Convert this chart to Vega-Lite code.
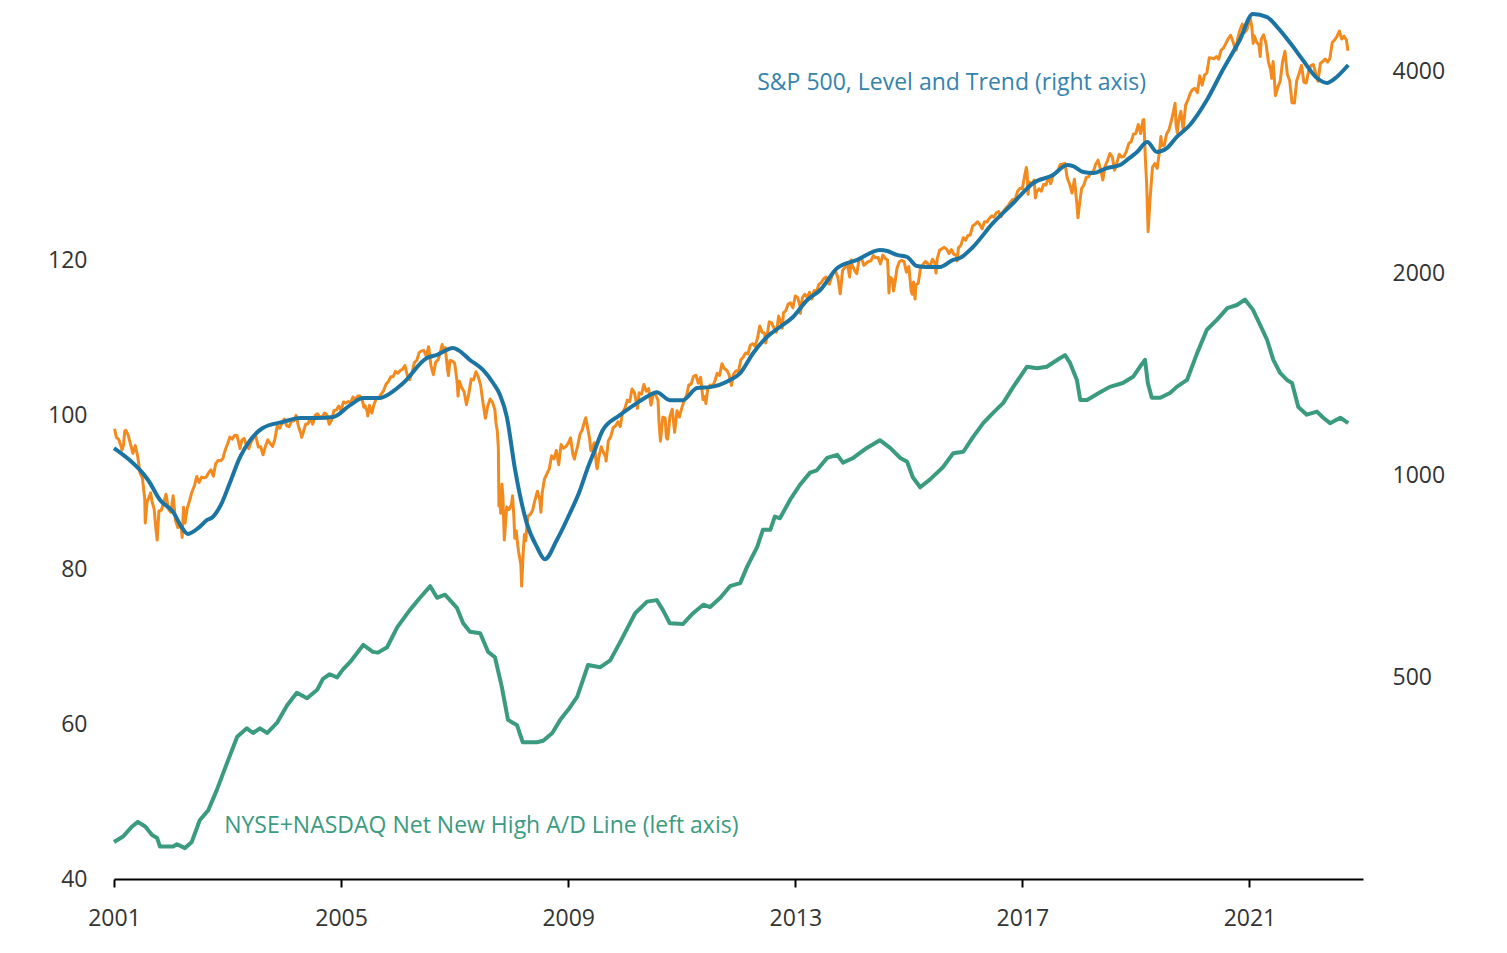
{
"$schema": "https://vega.github.io/schema/vega-lite/v6.json",
"width": 1249, "height": 873,
"autosize": {"type": "none"},
"padding": {"left": 114, "top": 6, "right": 144, "bottom": 74},
"background": "white",
"config": {"view": {"stroke": null}, "axis": {"labelFont": "Open Sans", "labelFontSize": 23, "labelColor": "#333333", "grid": false, "title": null}},
"datasets": {
"ad": [
{"t":2001.00,"v":44.8},{"t":2001.16,"v":45.5},{"t":2001.32,"v":46.8},{"t":2001.42,"v":47.4},{"t":2001.55,"v":46.8},{"t":2001.67,"v":45.7},{"t":2001.76,"v":45.3},{"t":2001.81,"v":44.2},{"t":2002.04,"v":44.2},{"t":2002.11,"v":44.5},{"t":2002.25,"v":44.0},{"t":2002.37,"v":44.8},{"t":2002.51,"v":47.6},{"t":2002.66,"v":48.9},{"t":2002.81,"v":51.5},{"t":2002.99,"v":55.0},{"t":2003.17,"v":58.4},{"t":2003.34,"v":59.5},{"t":2003.45,"v":58.9},{"t":2003.57,"v":59.5},{"t":2003.70,"v":58.9},{"t":2003.87,"v":60.2},{"t":2004.05,"v":62.5},{"t":2004.22,"v":64.1},{"t":2004.40,"v":63.4},{"t":2004.58,"v":64.5},{"t":2004.68,"v":65.9},{"t":2004.80,"v":66.5},{"t":2004.93,"v":66.1},{"t":2005.03,"v":67.1},{"t":2005.16,"v":68.1},{"t":2005.39,"v":70.3},{"t":2005.56,"v":69.4},{"t":2005.65,"v":69.3},{"t":2005.81,"v":70.0},{"t":2005.99,"v":72.6},{"t":2006.21,"v":74.8},{"t":2006.39,"v":76.4},{"t":2006.57,"v":77.9},{"t":2006.69,"v":76.4},{"t":2006.83,"v":76.8},{"t":2007.04,"v":75.1},{"t":2007.15,"v":73.1},{"t":2007.27,"v":72.0},{"t":2007.45,"v":71.8},{"t":2007.59,"v":69.4},{"t":2007.71,"v":68.7},{"t":2007.83,"v":64.9},{"t":2007.94,"v":60.6},{"t":2008.10,"v":59.9},{"t":2008.20,"v":57.7},{"t":2008.45,"v":57.7},{"t":2008.56,"v":57.9},{"t":2008.72,"v":58.9},{"t":2008.86,"v":60.6},{"t":2009.00,"v":61.9},{"t":2009.16,"v":63.6},{"t":2009.35,"v":67.7},{"t":2009.56,"v":67.4},{"t":2009.74,"v":68.3},{"t":2009.91,"v":70.6},{"t":2010.18,"v":74.4},{"t":2010.39,"v":75.9},{"t":2010.56,"v":76.1},{"t":2010.67,"v":74.8},{"t":2010.79,"v":73.1},{"t":2011.02,"v":73.0},{"t":2011.20,"v":74.4},{"t":2011.38,"v":75.5},{"t":2011.50,"v":75.2},{"t":2011.68,"v":76.4},{"t":2011.85,"v":77.9},{"t":2012.03,"v":78.3},{"t":2012.15,"v":80.4},{"t":2012.33,"v":83.0},{"t":2012.43,"v":85.2},{"t":2012.56,"v":85.2},{"t":2012.64,"v":86.9},{"t":2012.73,"v":86.7},{"t":2012.91,"v":89.1},{"t":2013.08,"v":91.0},{"t":2013.26,"v":92.6},{"t":2013.38,"v":92.9},{"t":2013.56,"v":94.5},{"t":2013.74,"v":94.9},{"t":2013.84,"v":93.9},{"t":2014.02,"v":94.5},{"t":2014.26,"v":95.8},{"t":2014.49,"v":96.8},{"t":2014.67,"v":95.8},{"t":2014.85,"v":94.5},{"t":2014.97,"v":94.0},{"t":2015.07,"v":92.0},{"t":2015.20,"v":90.7},{"t":2015.37,"v":91.7},{"t":2015.60,"v":93.3},{"t":2015.78,"v":95.1},{"t":2015.96,"v":95.3},{"t":2016.13,"v":97.2},{"t":2016.31,"v":99.0},{"t":2016.48,"v":100.3},{"t":2016.66,"v":101.6},{"t":2016.84,"v":103.7},{"t":2017.08,"v":106.3},{"t":2017.26,"v":106.1},{"t":2017.43,"v":106.3},{"t":2017.66,"v":107.4},{"t":2017.75,"v":107.8},{"t":2017.84,"v":106.8},{"t":2017.96,"v":104.6},{"t":2018.02,"v":102.0},{"t":2018.14,"v":102.0},{"t":2018.37,"v":103.0},{"t":2018.54,"v":103.7},{"t":2018.77,"v":104.2},{"t":2018.95,"v":105.0},{"t":2019.07,"v":106.3},{"t":2019.16,"v":107.2},{"t":2019.21,"v":104.2},{"t":2019.28,"v":102.3},{"t":2019.43,"v":102.3},{"t":2019.60,"v":102.9},{"t":2019.72,"v":103.7},{"t":2019.90,"v":104.6},{"t":2020.08,"v":108.1},{"t":2020.25,"v":111.1},{"t":2020.43,"v":112.4},{"t":2020.61,"v":113.9},{"t":2020.78,"v":114.3},{"t":2020.92,"v":115.0},{"t":2021.06,"v":113.7},{"t":2021.19,"v":111.7},{"t":2021.31,"v":109.8},{"t":2021.42,"v":107.2},{"t":2021.54,"v":105.5},{"t":2021.66,"v":104.6},{"t":2021.75,"v":104.2},{"t":2021.86,"v":101.1},{"t":2022.01,"v":100.1},{"t":2022.19,"v":100.5},{"t":2022.30,"v":99.7},{"t":2022.42,"v":99.0},{"t":2022.60,"v":99.7},{"t":2022.74,"v":99.0}
],
"trend": [
{"t":2001.00,"v":1097},{"t":2001.28,"v":1052},{"t":2001.46,"v":1017},{"t":2001.60,"v":983},{"t":2001.81,"v":918},{"t":2002.04,"v":881},{"t":2002.20,"v":834},{"t":2002.30,"v":817},{"t":2002.51,"v":837},{"t":2002.64,"v":857},{"t":2002.74,"v":866},{"t":2002.90,"v":909},{"t":2003.04,"v":973},{"t":2003.22,"v":1063},{"t":2003.40,"v":1127},{"t":2003.62,"v":1175},{"t":2003.98,"v":1200},{"t":2004.28,"v":1216},{"t":2004.58,"v":1216},{"t":2004.86,"v":1220},{"t":2005.16,"v":1271},{"t":2005.39,"v":1302},{"t":2005.69,"v":1302},{"t":2005.74,"v":1306},{"t":2006.09,"v":1370},{"t":2006.51,"v":1494},{"t":2006.69,"v":1510},{"t":2006.97,"v":1546},{"t":2007.06,"v":1536},{"t":2007.27,"v":1484},{"t":2007.50,"v":1434},{"t":2007.68,"v":1370},{"t":2007.80,"v":1316},{"t":2007.92,"v":1220},{"t":2008.06,"v":1024},{"t":2008.27,"v":848},{"t":2008.45,"v":781},{"t":2008.59,"v":749},{"t":2008.80,"v":800},{"t":2009.03,"v":877},{"t":2009.21,"v":950},{"t":2009.33,"v":1017},{"t":2009.47,"v":1090},{"t":2009.61,"v":1167},{"t":2009.91,"v":1228},{"t":2010.21,"v":1280},{"t":2010.44,"v":1316},{"t":2010.56,"v":1329},{"t":2010.79,"v":1293},{"t":2011.02,"v":1293},{"t":2011.27,"v":1348},{"t":2011.50,"v":1352},{"t":2011.85,"v":1385},{"t":2012.03,"v":1419},{"t":2012.26,"v":1520},{"t":2012.50,"v":1606},{"t":2012.73,"v":1662},{"t":2012.96,"v":1720},{"t":2013.21,"v":1823},{"t":2013.44,"v":1887},{"t":2013.74,"v":2035},{"t":2014.09,"v":2092},{"t":2014.49,"v":2164},{"t":2014.62,"v":2157},{"t":2014.79,"v":2128},{"t":2014.97,"v":2113},{"t":2015.14,"v":2049},{"t":2015.32,"v":2042},{"t":2015.55,"v":2042},{"t":2015.78,"v":2092},{"t":2015.90,"v":2106},{"t":2016.13,"v":2187},{"t":2016.48,"v":2373},{"t":2016.84,"v":2543},{"t":2017.19,"v":2723},{"t":2017.54,"v":2799},{"t":2017.79,"v":2897},{"t":2017.89,"v":2887},{"t":2018.07,"v":2828},{"t":2018.25,"v":2819},{"t":2018.49,"v":2867},{"t":2018.72,"v":2897},{"t":2018.84,"v":2947},{"t":2019.02,"v":3030},{"t":2019.20,"v":3135},{"t":2019.37,"v":3030},{"t":2019.55,"v":3072},{"t":2019.72,"v":3190},{"t":2019.95,"v":3324},{"t":2020.25,"v":3621},{"t":2020.53,"v":4014},{"t":2020.83,"v":4449},{"t":2021.06,"v":4864},{"t":2021.31,"v":4814},{"t":2021.49,"v":4652},{"t":2021.72,"v":4403},{"t":2021.94,"v":4154},{"t":2022.19,"v":3905},{"t":2022.37,"v":3839},{"t":2022.47,"v":3878},{"t":2022.74,"v":4083}
],
"spx": [
{"t":2001.01,"v":1172},{"t":2001.042,"v":1138},{"t":2001.083,"v":1130},{"t":2001.125,"v":1104},{"t":2001.14,"v":1090},{"t":2001.167,"v":1107},{"t":2001.19,"v":1164},{"t":2001.208,"v":1166},{"t":2001.25,"v":1147},{"t":2001.292,"v":1111},{"t":2001.333,"v":1077},{"t":2001.375,"v":1106},{"t":2001.417,"v":1067},{"t":2001.458,"v":1007},{"t":2001.5,"v":990},{"t":2001.542,"v":921},{"t":2001.55,"v":848},{"t":2001.583,"v":912},{"t":2001.625,"v":930},{"t":2001.645,"v":941},{"t":2001.667,"v":916},{"t":2001.708,"v":889},{"t":2001.73,"v":845},{"t":2001.75,"v":815},{"t":2001.76,"v":800},{"t":2001.792,"v":884},{"t":2001.833,"v":886},{"t":2001.875,"v":910},{"t":2001.917,"v":936},{"t":2001.958,"v":890},{"t":2002.0,"v":880},
{"t":2002.042,"v":931},{"t":2002.083,"v":856},{"t":2002.125,"v":835},{"t":2002.167,"v":841},{"t":2002.19,"v":829},{"t":2002.20,"v":807},{"t":2002.225,"v":895},{"t":2002.25,"v":848},{"t":2002.292,"v":893},{"t":2002.333,"v":917},{"t":2002.375,"v":945},{"t":2002.417,"v":964},{"t":2002.458,"v":995},{"t":2002.5,"v":975},{"t":2002.542,"v":993},{"t":2002.583,"v":990},{"t":2002.625,"v":993},{"t":2002.667,"v":1008},{"t":2002.708,"v":1018},{"t":2002.75,"v":996},{"t":2002.792,"v":1040},{"t":2002.833,"v":1051},{"t":2002.875,"v":1050},{"t":2002.917,"v":1058},{"t":2002.958,"v":1089},{"t":2003.0,"v":1112},
{"t":2003.042,"v":1139},{"t":2003.083,"v":1131},{"t":2003.125,"v":1146},{"t":2003.167,"v":1145},{"t":2003.208,"v":1107},{"t":2003.22,"v":1095},{"t":2003.25,"v":1126},{"t":2003.292,"v":1134},{"t":2003.333,"v":1107},{"t":2003.375,"v":1095},{"t":2003.417,"v":1121},{"t":2003.458,"v":1136},{"t":2003.5,"v":1141},{"t":2003.542,"v":1101},{"t":2003.583,"v":1102},{"t":2003.625,"v":1072},{"t":2003.667,"v":1104},{"t":2003.708,"v":1128},{"t":2003.75,"v":1115},{"t":2003.792,"v":1103},{"t":2003.833,"v":1130},{"t":2003.875,"v":1184},{"t":2003.917,"v":1174},{"t":2003.958,"v":1194},{"t":2004.0,"v":1212},
{"t":2004.042,"v":1184},{"t":2004.083,"v":1181},{"t":2004.125,"v":1201},{"t":2004.167,"v":1204},{"t":2004.208,"v":1227},{"t":2004.25,"v":1181},{"t":2004.292,"v":1152},{"t":2004.306,"v":1138},{"t":2004.333,"v":1157},{"t":2004.375,"v":1190},{"t":2004.417,"v":1192},{"t":2004.458,"v":1216},{"t":2004.5,"v":1191},{"t":2004.542,"v":1227},{"t":2004.583,"v":1234},{"t":2004.625,"v":1220},{"t":2004.667,"v":1220},{"t":2004.708,"v":1237},{"t":2004.75,"v":1229},{"t":2004.792,"v":1190},{"t":2004.833,"v":1207},{"t":2004.875,"v":1248},{"t":2004.917,"v":1250},{"t":2004.958,"v":1267},{"t":2005.0,"v":1248},
{"t":2005.042,"v":1285},{"t":2005.083,"v":1280},{"t":2005.125,"v":1287},{"t":2005.167,"v":1281},{"t":2005.208,"v":1307},{"t":2005.25,"v":1295},{"t":2005.292,"v":1311},{"t":2005.333,"v":1311},{"t":2005.375,"v":1292},{"t":2005.40,"v":1262},{"t":2005.417,"v":1270},{"t":2005.458,"v":1245},{"t":2005.47,"v":1224},{"t":2005.5,"v":1270},{"t":2005.542,"v":1237},{"t":2005.583,"v":1277},{"t":2005.625,"v":1302},{"t":2005.667,"v":1304},{"t":2005.708,"v":1321},{"t":2005.75,"v":1336},{"t":2005.792,"v":1366},{"t":2005.833,"v":1378},{"t":2005.875,"v":1401},{"t":2005.917,"v":1401},{"t":2005.958,"v":1427},{"t":2006.0,"v":1418},
{"t":2006.042,"v":1431},{"t":2006.083,"v":1438},{"t":2006.125,"v":1456},{"t":2006.167,"v":1407},{"t":2006.208,"v":1387},{"t":2006.25,"v":1421},{"t":2006.292,"v":1472},{"t":2006.333,"v":1482},{"t":2006.375,"v":1522},{"t":2006.417,"v":1531},{"t":2006.458,"v":1533},{"t":2006.5,"v":1503},{"t":2006.542,"v":1553},{"t":2006.583,"v":1455},{"t":2006.625,"v":1411},{"t":2006.667,"v":1474},{"t":2006.708,"v":1484},{"t":2006.75,"v":1527},{"t":2006.78,"v":1565},{"t":2006.792,"v":1540},{"t":2006.833,"v":1549},{"t":2006.875,"v":1440},{"t":2006.89,"v":1407},{"t":2006.917,"v":1481},{"t":2006.958,"v":1479},{"t":2007.0,"v":1468},
{"t":2007.042,"v":1380},{"t":2007.06,"v":1311},{"t":2007.083,"v":1379},{"t":2007.125,"v":1349},{"t":2007.167,"v":1331},{"t":2007.208,"v":1273},{"t":2007.25,"v":1323},{"t":2007.292,"v":1390},{"t":2007.333,"v":1386},{"t":2007.375,"v":1425},{"t":2007.417,"v":1400},{"t":2007.458,"v":1360},{"t":2007.5,"v":1280},{"t":2007.542,"v":1215},{"t":2007.583,"v":1267},{"t":2007.625,"v":1298},{"t":2007.667,"v":1283},{"t":2007.708,"v":1252},{"t":2007.73,"v":1192},{"t":2007.75,"v":1166},{"t":2007.77,"v":1099},{"t":2007.78,"v":899},{"t":2007.792,"v":940},{"t":2007.81,"v":877},{"t":2007.833,"v":969},{"t":2007.85,"v":930},{"t":2007.875,"v":800},{"t":2007.917,"v":896},{"t":2007.958,"v":888},{"t":2008.0,"v":903},
{"t":2008.02,"v":931},{"t":2008.042,"v":870},{"t":2008.06,"v":805},{"t":2008.083,"v":826},{"t":2008.125,"v":770},{"t":2008.167,"v":735},{"t":2008.18,"v":683},{"t":2008.208,"v":768},{"t":2008.23,"v":815},{"t":2008.25,"v":798},{"t":2008.292,"v":869},{"t":2008.333,"v":873},{"t":2008.375,"v":887},{"t":2008.417,"v":919},{"t":2008.458,"v":946},{"t":2008.5,"v":919},{"t":2008.52,"v":880},{"t":2008.542,"v":940},{"t":2008.583,"v":987},{"t":2008.625,"v":1004},{"t":2008.667,"v":1021},{"t":2008.708,"v":1068},{"t":2008.75,"v":1057},{"t":2008.792,"v":1088},{"t":2008.833,"v":1036},{"t":2008.875,"v":1110},{"t":2008.917,"v":1096},{"t":2008.958,"v":1102},{"t":2009.0,"v":1115},
{"t":2009.042,"v":1136},{"t":2009.083,"v":1074},{"t":2009.11,"v":1056},{"t":2009.125,"v":1071},{"t":2009.167,"v":1105},{"t":2009.208,"v":1150},{"t":2009.25,"v":1169},{"t":2009.292,"v":1205},{"t":2009.31,"v":1217},{"t":2009.333,"v":1187},{"t":2009.375,"v":1136},{"t":2009.40,"v":1087},{"t":2009.417,"v":1089},{"t":2009.458,"v":1117},{"t":2009.5,"v":1031},{"t":2009.51,"v":1022},{"t":2009.542,"v":1065},{"t":2009.583,"v":1102},{"t":2009.625,"v":1079},{"t":2009.66,"v":1064},{"t":2009.667,"v":1049},{"t":2009.708,"v":1125},{"t":2009.75,"v":1141},{"t":2009.792,"v":1176},{"t":2009.833,"v":1183},{"t":2009.875,"v":1200},{"t":2009.917,"v":1181},{"t":2009.958,"v":1240},{"t":2010.0,"v":1258},
{"t":2010.042,"v":1293},{"t":2010.083,"v":1286},{"t":2010.125,"v":1343},{"t":2010.167,"v":1327},{"t":2010.208,"v":1273},{"t":2010.22,"v":1257},{"t":2010.25,"v":1326},{"t":2010.292,"v":1320},{"t":2010.333,"v":1364},{"t":2010.375,"v":1333},{"t":2010.417,"v":1345},{"t":2010.458,"v":1271},{"t":2010.5,"v":1321},{"t":2010.542,"v":1316},{"t":2010.583,"v":1292},{"t":2010.60,"v":1199},{"t":2010.625,"v":1123},{"t":2010.667,"v":1219},{"t":2010.708,"v":1216},{"t":2010.73,"v":1136},{"t":2010.75,"v":1131},{"t":2010.765,"v":1155},{"t":2010.792,"v":1224},{"t":2010.833,"v":1253},{"t":2010.875,"v":1158},{"t":2010.917,"v":1247},{"t":2010.958,"v":1220},{"t":2011.0,"v":1258},
{"t":2011.042,"v":1289},{"t":2011.083,"v":1312},{"t":2011.125,"v":1362},{"t":2011.167,"v":1366},{"t":2011.208,"v":1404},{"t":2011.25,"v":1408},{"t":2011.292,"v":1370},{"t":2011.333,"v":1398},{"t":2011.375,"v":1295},{"t":2011.417,"v":1310},{"t":2011.425,"v":1278},{"t":2011.458,"v":1343},{"t":2011.5,"v":1362},{"t":2011.542,"v":1357},{"t":2011.583,"v":1379},{"t":2011.625,"v":1418},{"t":2011.667,"v":1407},{"t":2011.708,"v":1465},{"t":2011.75,"v":1441},{"t":2011.792,"v":1433},{"t":2011.833,"v":1412},{"t":2011.875,"v":1360},{"t":2011.917,"v":1416},{"t":2011.958,"v":1430},{"t":2012.0,"v":1426},
{"t":2012.042,"v":1485},{"t":2012.083,"v":1498},{"t":2012.125,"v":1520},{"t":2012.167,"v":1515},{"t":2012.208,"v":1561},{"t":2012.25,"v":1569},{"t":2012.292,"v":1555},{"t":2012.333,"v":1598},{"t":2012.375,"v":1667},{"t":2012.417,"v":1631},{"t":2012.458,"v":1627},{"t":2012.48,"v":1573},{"t":2012.5,"v":1606},{"t":2012.542,"v":1692},{"t":2012.583,"v":1686},{"t":2012.625,"v":1655},{"t":2012.667,"v":1633},{"t":2012.708,"v":1725},{"t":2012.75,"v":1682},{"t":2012.77,"v":1655},{"t":2012.792,"v":1744},{"t":2012.833,"v":1757},{"t":2012.875,"v":1798},{"t":2012.917,"v":1806},{"t":2012.958,"v":1775},{"t":2013.0,"v":1848},
{"t":2013.042,"v":1839},{"t":2013.083,"v":1783},{"t":2013.09,"v":1741},{"t":2013.125,"v":1838},{"t":2013.167,"v":1859},{"t":2013.208,"v":1841},{"t":2013.25,"v":1872},{"t":2013.292,"v":1830},{"t":2013.333,"v":1884},{"t":2013.375,"v":1878},{"t":2013.417,"v":1924},{"t":2013.458,"v":1936},{"t":2013.5,"v":1960},{"t":2013.542,"v":1973},{"t":2013.583,"v":1931},{"t":2013.60,"v":1925},{"t":2013.625,"v":1955},{"t":2013.667,"v":2003},{"t":2013.708,"v":2011},{"t":2013.75,"v":1972},{"t":2013.792,"v":1862},{"t":2013.833,"v":2018},{"t":2013.875,"v":2039},{"t":2013.917,"v":2068},{"t":2013.958,"v":1973},{"t":2013.985,"v":2091},{"t":2014.0,"v":2059},
{"t":2014.042,"v":2019},{"t":2014.083,"v":1995},{"t":2014.125,"v":2097},{"t":2014.167,"v":2105},{"t":2014.208,"v":2053},{"t":2014.25,"v":2068},{"t":2014.292,"v":2081},{"t":2014.333,"v":2086},{"t":2014.375,"v":2123},{"t":2014.417,"v":2107},{"t":2014.458,"v":2110},{"t":2014.5,"v":2063},{"t":2014.542,"v":2127},{"t":2014.583,"v":2104},{"t":2014.625,"v":2092},{"t":2014.64,"v":1971},{"t":2014.65,"v":1868},{"t":2014.667,"v":1972},{"t":2014.708,"v":1958},{"t":2014.73,"v":1881},{"t":2014.75,"v":1920},{"t":2014.792,"v":2033},{"t":2014.833,"v":2079},{"t":2014.875,"v":2089},{"t":2014.917,"v":2080},{"t":2014.958,"v":2006},{"t":2015.0,"v":2044},
{"t":2015.042,"v":1880},{"t":2015.06,"v":1859},{"t":2015.083,"v":1940},{"t":2015.11,"v":1829},{"t":2015.125,"v":1918},{"t":2015.167,"v":1932},{"t":2015.208,"v":2041},{"t":2015.25,"v":2060},{"t":2015.292,"v":2081},{"t":2015.333,"v":2065},{"t":2015.375,"v":2047},{"t":2015.417,"v":2097},{"t":2015.458,"v":2071},{"t":2015.48,"v":2000},{"t":2015.5,"v":2099},{"t":2015.542,"v":2162},{"t":2015.583,"v":2174},{"t":2015.625,"v":2184},{"t":2015.667,"v":2171},{"t":2015.708,"v":2139},{"t":2015.75,"v":2168},{"t":2015.792,"v":2133},{"t":2015.833,"v":2126},{"t":2015.85,"v":2085},{"t":2015.875,"v":2182},{"t":2015.917,"v":2199},{"t":2015.958,"v":2258},{"t":2016.0,"v":2239},
{"t":2016.042,"v":2275},{"t":2016.083,"v":2279},{"t":2016.125,"v":2351},{"t":2016.167,"v":2364},{"t":2016.208,"v":2385},{"t":2016.25,"v":2363},{"t":2016.292,"v":2329},{"t":2016.333,"v":2384},{"t":2016.375,"v":2382},{"t":2016.417,"v":2412},{"t":2016.458,"v":2433},{"t":2016.5,"v":2423},{"t":2016.542,"v":2459},{"t":2016.583,"v":2470},{"t":2016.625,"v":2426},{"t":2016.667,"v":2472},{"t":2016.708,"v":2500},{"t":2016.75,"v":2519},{"t":2016.792,"v":2553},{"t":2016.833,"v":2575},{"t":2016.875,"v":2579},{"t":2016.917,"v":2648},{"t":2016.958,"v":2676},{"t":2017.0,"v":2674},
{"t":2017.042,"v":2798},{"t":2017.07,"v":2873},{"t":2017.083,"v":2824},{"t":2017.10,"v":2620},{"t":2017.125,"v":2732},{"t":2017.167,"v":2714},{"t":2017.208,"v":2752},{"t":2017.23,"v":2588},{"t":2017.25,"v":2641},{"t":2017.292,"v":2670},{"t":2017.333,"v":2648},{"t":2017.375,"v":2712},{"t":2017.417,"v":2705},{"t":2017.458,"v":2780},{"t":2017.5,"v":2718},{"t":2017.542,"v":2801},{"t":2017.583,"v":2816},{"t":2017.625,"v":2840},{"t":2017.667,"v":2902},{"t":2017.708,"v":2905},{"t":2017.75,"v":2914},{"t":2017.792,"v":2768},{"t":2017.833,"v":2712},{"t":2017.875,"v":2632},{"t":2017.917,"v":2760},{"t":2017.958,"v":2546},{"t":2017.98,"v":2417},{"t":2018.0,"v":2507},
{"t":2018.042,"v":2670},{"t":2018.083,"v":2704},{"t":2018.125,"v":2776},{"t":2018.167,"v":2784},{"t":2018.208,"v":2822},{"t":2018.25,"v":2834},{"t":2018.292,"v":2906},{"t":2018.333,"v":2946},{"t":2018.375,"v":2860},{"t":2018.417,"v":2752},{"t":2018.458,"v":2887},{"t":2018.5,"v":2942},{"t":2018.542,"v":3014},{"t":2018.583,"v":2980},{"t":2018.625,"v":2847},{"t":2018.667,"v":2926},{"t":2018.708,"v":3007},{"t":2018.75,"v":2977},{"t":2018.792,"v":2986},{"t":2018.833,"v":3038},{"t":2018.875,"v":3120},{"t":2018.917,"v":3141},{"t":2018.958,"v":3221},{"t":2019.0,"v":3231},
{"t":2019.042,"v":3330},{"t":2019.083,"v":3226},{"t":2019.125,"v":3380},{"t":2019.14,"v":3386},{"t":2019.167,"v":2954},{"t":2019.19,"v":2711},{"t":2019.215,"v":2305},{"t":2019.25,"v":2585},{"t":2019.292,"v":2875},{"t":2019.333,"v":2912},{"t":2019.375,"v":2864},{"t":2019.417,"v":3044},{"t":2019.44,"v":3194},{"t":2019.458,"v":3098},{"t":2019.5,"v":3100},{"t":2019.542,"v":3225},{"t":2019.583,"v":3271},{"t":2019.625,"v":3373},{"t":2019.667,"v":3500},{"t":2019.69,"v":3580},{"t":2019.708,"v":3319},{"t":2019.73,"v":3237},{"t":2019.75,"v":3363},{"t":2019.792,"v":3484},{"t":2019.833,"v":3270},{"t":2019.875,"v":3558},{"t":2019.917,"v":3622},{"t":2019.958,"v":3709},{"t":2020.0,"v":3756},
{"t":2020.042,"v":3768},{"t":2020.083,"v":3714},{"t":2020.125,"v":3934},{"t":2020.167,"v":3811},{"t":2020.208,"v":3943},{"t":2020.25,"v":3973},{"t":2020.292,"v":4185},{"t":2020.333,"v":4181},{"t":2020.375,"v":4173},{"t":2020.417,"v":4204},{"t":2020.458,"v":4166},{"t":2020.5,"v":4298},{"t":2020.542,"v":4327},{"t":2020.583,"v":4395},{"t":2020.625,"v":4468},{"t":2020.667,"v":4523},{"t":2020.708,"v":4433},{"t":2020.75,"v":4308},{"t":2020.77,"v":4300},{"t":2020.792,"v":4471},{"t":2020.833,"v":4605},{"t":2020.875,"v":4698},{"t":2020.90,"v":4594},{"t":2020.917,"v":4567},{"t":2020.958,"v":4620},{"t":2021.0,"v":4766},
{"t":2021.01,"v":4797},{"t":2021.042,"v":4663},{"t":2021.065,"v":4398},{"t":2021.083,"v":4516},{"t":2021.125,"v":4418},{"t":2021.167,"v":4374},{"t":2021.19,"v":4204},{"t":2021.208,"v":4463},{"t":2021.25,"v":4530},{"t":2021.292,"v":4392},{"t":2021.333,"v":4132},{"t":2021.375,"v":4008},{"t":2021.39,"v":3901},{"t":2021.417,"v":4132},{"t":2021.458,"v":3675},{"t":2021.5,"v":3785},{"t":2021.542,"v":3863},{"t":2021.583,"v":4130},{"t":2021.625,"v":4280},{"t":2021.667,"v":3955},{"t":2021.708,"v":3873},{"t":2021.75,"v":3586},{"t":2021.792,"v":3583},{"t":2021.833,"v":3872},{"t":2021.875,"v":3965},{"t":2021.917,"v":4080},{"t":2021.958,"v":3852},{"t":2022.0,"v":3839},
{"t":2022.042,"v":3999},{"t":2022.083,"v":4077},{"t":2022.125,"v":4090},{"t":2022.167,"v":3970},{"t":2022.208,"v":3862},{"t":2022.25,"v":4109},{"t":2022.292,"v":4134},{"t":2022.333,"v":4169},{"t":2022.375,"v":4124},{"t":2022.417,"v":4180},{"t":2022.458,"v":4410},{"t":2022.5,"v":4450},{"t":2022.542,"v":4505},{"t":2022.583,"v":4589},{"t":2022.625,"v":4464},{"t":2022.667,"v":4508},{"t":2022.708,"v":4450},{"t":2022.735,"v":4288}
]
},
"layer": [
{"layer": [
{"data": {"name": "ad"},
 "mark": {"type": "line", "color": "#3A9B7E", "strokeWidth": 4, "strokeJoin": "round"},
 "encoding": {
  "x": {"field": "t", "type": "quantitative", "scale": {"domain": [2001, 2023], "nice": false, "zero": false},
        "axis": {"orient": "bottom", "values": [2001, 2005, 2009, 2013, 2017, 2021], "format": "d", "domainColor": "#000000", "domainWidth": 2, "tickColor": "#000000", "tickWidth": 2, "tickSize": 8, "labelPadding": 20, "labelFlush": false}},
  "y": {"field": "v", "type": "quantitative", "scale": {"domain": [40, 153], "nice": false, "zero": false},
        "axis": {"orient": "left", "values": [40, 60, 80, 100, 120], "ticks": false, "tickSize": 0, "domain": false, "labelPadding": 27}}
 }},
{"data": {"values": [{"t": 2002.94, "v": 45.95, "label": "NYSE+NASDAQ Net New High A/D Line (left axis)"}]},
 "mark": {"type": "text", "align": "left", "baseline": "alphabetic", "font": "Open Sans", "fontSize": 23, "color": "#3A9B7E"},
 "encoding": {
  "x": {"field": "t", "type": "quantitative"},
  "y": {"field": "v", "type": "quantitative"},
  "text": {"field": "label"}
 }}
]},
{"layer": [
{"data": {"name": "spx"},
 "mark": {"type": "line", "color": "#F28A1E", "strokeWidth": 3, "strokeJoin": "round"},
 "encoding": {
  "x": {"field": "t", "type": "quantitative"},
  "y": {"field": "v", "type": "quantitative", "scale": {"type": "log", "domain": [250, 5000], "nice": false},
        "axis": {"orient": "right", "values": [500, 1000, 2000, 4000], "format": "d", "ticks": false, "tickSize": 0, "domain": false, "labelPadding": 29}}
 }},
{"data": {"name": "trend"},
 "mark": {"type": "line", "color": "#1C74A2", "strokeWidth": 4, "strokeJoin": "round", "interpolate": "monotone"},
 "encoding": {
  "x": {"field": "t", "type": "quantitative"},
  "y": {"field": "v", "type": "quantitative"}
 }},
{"data": {"values": [{"t": 2012.33, "v": 3744, "label": "S&P 500, Level and Trend (right axis)"}]},
 "mark": {"type": "text", "align": "left", "baseline": "alphabetic", "font": "Open Sans", "fontSize": 23, "color": "#3483AC"},
 "encoding": {
  "x": {"field": "t", "type": "quantitative"},
  "y": {"field": "v", "type": "quantitative"},
  "text": {"field": "label"}
 }}
]}
],
"resolve": {"scale": {"y": "independent"}}
}
